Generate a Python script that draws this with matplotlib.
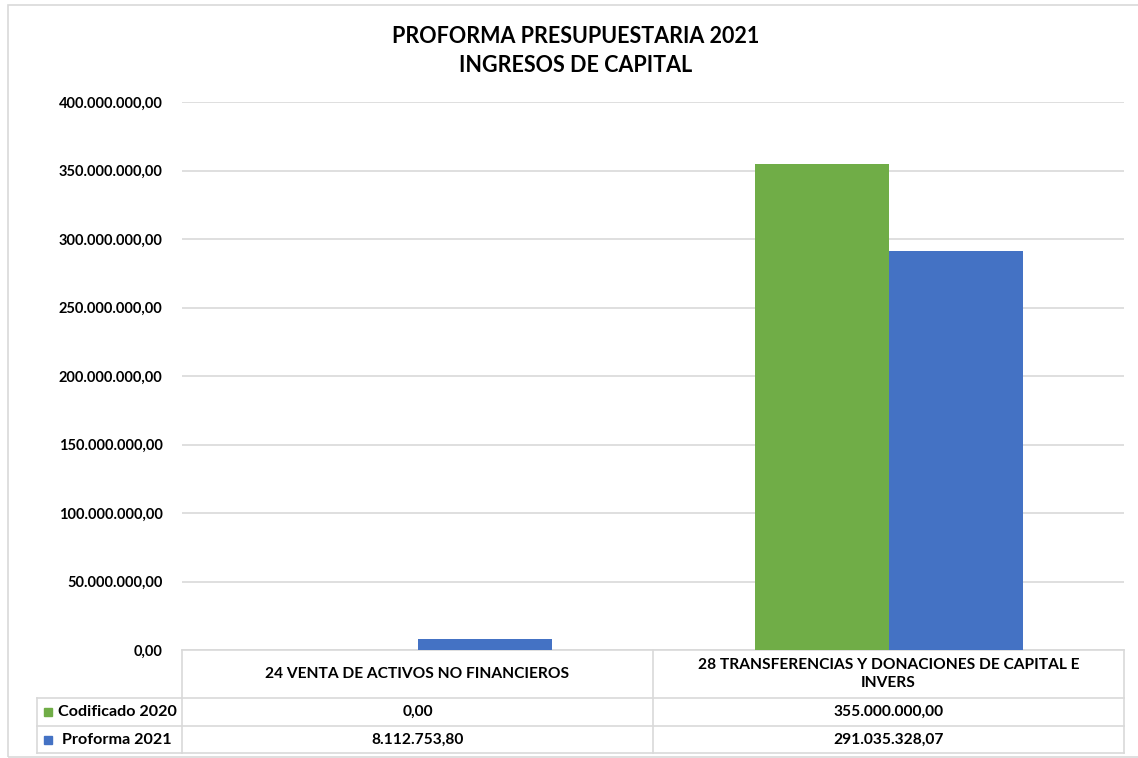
import matplotlib
matplotlib.use("Agg")
import matplotlib.pyplot as plt
from matplotlib.ticker import FuncFormatter, MultipleLocator
from matplotlib.transforms import blended_transform_factory
from matplotlib.patches import Rectangle
import numpy as np

categories = ["24 VENTA DE ACTIVOS NO FINANCIEROS",
              "28 TRANSFERENCIAS Y DONACIONES DE CAPITAL E\nINVERS"]
series_names = ["Codificado 2020", "Proforma 2021"]
codificado_2020 = [0.00, 355000000.00]
proforma_2021 = [8112753.80, 291035328.07]
colors = ["#70AD47", "#4472C4"]
title = "PROFORMA PRESUPUESTARIA 2021\nINGRESOS DE CAPITAL"

plt.rcParams['font.family'] = ['Lato', 'DejaVu Sans']

W, H = 1138, 758
fig = plt.figure(figsize=(W / 100, H / 100), dpi=100)

def fx(px):
    return px / W

def fy(py):
    return 1 - py / H

# outer chart border
fig.patches.append(Rectangle((fx(8), fy(757)), fx(1200) - fx(8), fy(5) - fy(757),
                             transform=fig.transFigure, fill=False,
                             edgecolor="#D9D9D9", linewidth=1.2))

ax_l, ax_r, ax_t, ax_b = 182, 1124, 102, 650
ax = fig.add_axes([fx(ax_l), fy(ax_b), fx(ax_r) - fx(ax_l), fy(ax_t) - fy(ax_b)])

def fmt(v, pos=None):
    s = f"{v:,.2f}"
    return s.replace(",", "X").replace(".", ",").replace("X", ".")

x = np.arange(len(categories)) + 0.5
bw = 134 / 471
ax.bar(x - bw / 2, codificado_2020, width=bw, color=colors[0], zorder=3)
ax.bar(x + bw / 2, proforma_2021, width=bw, color=colors[1], zorder=3)
ax.set_xlim(0, len(categories))
ax.set_ylim(0, 400000000)
ax.yaxis.set_major_locator(MultipleLocator(50000000))
ax.yaxis.set_major_formatter(FuncFormatter(fmt))
ax.grid(axis="y", color="#D9D9D9", linewidth=1.2, zorder=0)
for s in ["top", "right", "left"]:
    ax.spines[s].set_visible(False)
ax.spines["bottom"].set_color("#D9D9D9")
ax.spines["bottom"].set_linewidth(1.2)
ax.set_xticks([])
ax.tick_params(axis="y", length=0, pad=14, labelsize=10.5)
for lab in ax.get_yticklabels():
    lab.set_fontweight("bold")

fig.text(fx(576), fy(51), title, ha="center", va="center", fontsize=15.5,
         fontweight="bold", linespacing=1.5)

# data table
tr = blended_transform_factory(ax.transData, fig.transFigure)
lc = "#D9D9D9"
row_tops = [650, 698, 726, 753]
ncat = len(categories)
for xi in range(ncat + 1):
    ax.plot([xi, xi], [fy(650), fy(753)], transform=tr, color=lc, lw=1.2, clip_on=False)
for py in row_tops[1:]:
    fig.add_artist(plt.Line2D([fx(37), fx(ax_l)], [fy(py), fy(py)], color=lc, lw=1.2))
    ax.plot([0, ncat], [fy(py), fy(py)], transform=tr, color=lc, lw=1.2, clip_on=False)
fig.add_artist(plt.Line2D([fx(37), fx(37)], [fy(698), fy(753)], color=lc, lw=1.2))

tsize = 11.2
for i, c in enumerate(categories):
    ax.text(x[i], fy(674), c, transform=tr, ha="center", va="center",
            fontsize=tsize, fontweight="bold", linespacing=1.45)
    ax.text(x[i], fy(712), fmt(codificado_2020[i]), transform=tr, ha="center",
            va="center", fontsize=tsize, fontweight="bold")
    ax.text(x[i], fy(740), fmt(proforma_2021[i]), transform=tr, ha="center",
            va="center", fontsize=tsize, fontweight="bold")

legend_rows = [712, 740]
text_x = [58, 62]
for name, col, py, tx in zip(series_names, colors, legend_rows, text_x):
    fig.patches.append(Rectangle((fx(44), fy(py + 4)), fx(8), fy(py - 4) - fy(py + 4),
                                 transform=fig.transFigure, color=col))
    fig.text(fx(tx), fy(py), name, ha="left", va="center", fontsize=11.6,
             fontweight="bold")

fig.savefig("out.png", dpi=100)
